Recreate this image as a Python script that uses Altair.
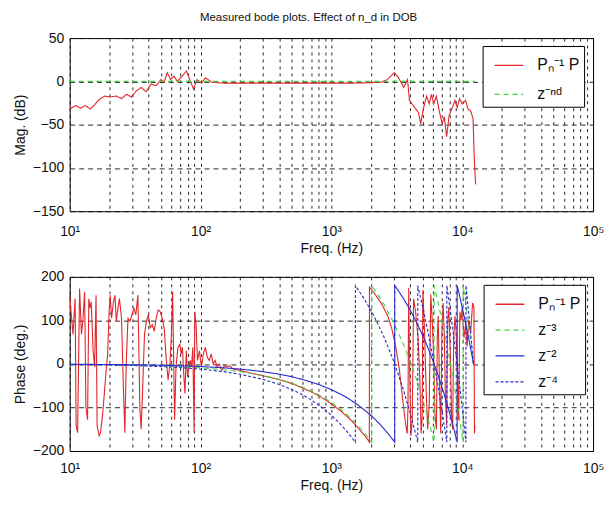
import altair as alt
import pandas as pd

# ---------------- magnitude panel ----------------
mag_p_freq = [10, 11.1, 12.1, 13.2, 14.4, 15.7, 17.1, 18.6, 20.3, 22.8, 24.9, 27.1, 29.6, 32.3,
              35.2, 38.4, 41.9, 45.7, 49.8, 52.7, 55.7, 59, 62.7, 66.4, 72.3, 78, 83.7, 88.5,
              93.9, 102, 108.5, 114.6, 121.5, 150, 200, 300, 500, 1000, 1500, 2000, 2400,
              2670, 3030, 3270, 3570, 3820, 3950, 4230, 4630, 4820, 5040, 5340, 5590, 5820,
              6060, 6340, 6700, 7020, 7300, 7600, 7950, 8420, 8800, 9160, 9550, 9990, 10600,
              11100, 11600, 12100, 12300, 12500, 12650]
mag_p_db = [-32, -28, -31, -28, -32, -26, -20, -17, -18, -17, -20, -15, -18, -11,
            -7, -12, -3, -5, 2, -1, 10, 2, 6, 0, 6, 12, 0, -9,
            2, -2, 4, 2, -1, -2, -2, -2, -2, -2, -2, -1.5, -1,
            2, 10, 4, -7, 2, -22, -28, -36, -49, -32, -17, -26, -15,
            -26, -17, -35, -49, -41, -64, -39, -30, -22, -30, -20, -26, -22,
            -32, -34, -43, -79, -104, -119]
mag_z_freq = [10, 12500]
mag_z_db = [0, 0]
mag_labels = ["Pₙ⁻¹ P", "z⁻ⁿᵈ"]

# ---------------- phase panel ----------------
ph_p_freq = [10, 10.35, 10.6, 11.0, 11.2, 11.5, 11.9, 12.3, 12.6, 13.0, 13.3, 13.7, 14.0, 14.3,
             14.6, 15.1, 15.5, 15.9, 16.2, 16.8, 17.2, 17.8, 18.4, 18.9, 19.5, 20.0, 20.4, 20.9,
             21.6, 22.2, 22.7, 23.2, 24.0, 24.9, 25.8, 26.4, 27.0, 27.9, 28.9, 29.9, 30.9, 32.0,
             33.2, 34.4, 35.2, 36.0, 37.3, 38.6, 39.9, 41.3, 42.8, 44.3, 45.8, 47.4, 49.2, 50.9,
             52.7, 54.6, 56.5, 58.4, 59.9, 61.2, 62.7, 63.4, 64.9, 67.2, 69.5, 71.1, 72.7, 74.4,
             76.0, 77.8, 79.6, 81.4, 83.4, 85.3, 87.3, 89.3, 90.4, 92.5, 94.7, 98.1, 101.6, 105.1,
             108.8, 112.7, 116.6, 120.8, 125.0, 129.4, 134.0, 138.7, 145.3, 152.2, 159.4, 166.8,
             176.5, 200, 250, 300, 400, 500, 600, 700, 800, 900, 1000, 1200, 1400, 1600, 1800,
             1900, 1950, 1955, 2100, 2400, 2700, 2900, 3100, 3300, 3500, 3700, 3800, 3850, 3900,
             3950, 4050, 4150, 4250, 4400, 4600, 4750, 4850, 4950, 5000, 5150, 5300, 5450, 5600,
             5750, 5900, 6050, 6200, 6350, 6450, 6550, 6700, 6850, 7000, 7150, 7300, 7450, 7600,
             7750, 7900, 8100, 8300, 8450, 8600, 8800, 9000, 9200, 9400, 9600, 9800, 10000, 10300,
             10600, 10900, 11200, 11600, 12000, 12300, 12400, 12500]
ph_p_deg = [158, 105, 68, 150, -143, -158, 173, 68, 98, 166, -98, -128, 150, 128,
            143, 30, -7, 158, -143, -165, -158, -120, -68, -23, 23, 120, 158, 105,
            143, 158, 98, 120, 150, 105, -68, -158, -7, 105, 98, 113, 128, 113,
            158, -105, -150, -68, 68, 98, 113, 83, 90, 75, 105, 124, 120, 105,
            83, 15, -37, 0, 68, 166, -45, -128, -7, 38, 45, 23, 38, -23,
            -68, 30, -30, -7, 8, -7, 38, -158, 120, 90, 8, 30, -7, 23,
            38, 15, 8, 23, 0, 8, -7, 0, -15, -4, -7, -4,
            -11, -15, -22, -27, -36, -45, -55, -64, -73, -82, -92, -110, -128, -147, -165,
            -174, -180, 176, 165, 140, 110, 80, 40, -10, -80, -140, -160, -100, 175,
            20, -165, -130, 150, 120, 60, -40, -160, -120, 170, 80, -60, -150, -90,
            160, 100, 20, -120, -150, 60, 110, -40, -160, 80, 140, 60, -80, -140,
            100, 130, 30, -120, -150, 60, 110, 70, -20, -130, 120, 100, 130, 60,
            90, 40, 100, 70, 140, 130, -160, -140]

ph_z3_freq = [10, 30, 60, 100, 150, 200, 300, 400, 500, 600, 700, 800, 900, 1000, 1200, 1400,
              1600, 1800, 2033, 2034, 2300, 2600, 3000, 3500, 4000, 4500, 5000, 5500, 6100,
              6101, 6500, 7000, 7500, 8000, 8500, 9000, 9500, 10167, 10168, 10600, 11000,
              11500, 12200]
ph_z3_deg = [-0.9, -2.7, -5.3, -8.9, -13.3, -17.7, -26.6, -35.4, -44.3, -53.1, -62.0, -70.8,
             -79.7, -88.5, -106.2, -123.9, -141.6, -159.3, -180, 180, 156.4, 129.8, 94.4, 50.1,
             5.9, -38.4, -82.6, -126.9, -180, 180, 144.6, 100.3, 56.1, 11.8, -32.5, -76.7,
             -121.0, -180, 180, 141.7, 106.3, 62.0, 0]

ph_z2_freq = [10, 30, 60, 100, 150, 200, 300, 400, 500, 600, 800, 1000, 1200, 1400, 1600, 1800,
              2000, 2200, 2400, 2600, 2800, 3000, 3050, 3051, 3300, 3600, 4000, 4500, 5000, 5500,
              6000, 6500, 7000, 7500, 8000, 8500, 9000, 9150, 9151, 9600, 10000, 10500, 11000,
              11500, 12200]
ph_z2_deg = [-0.6, -1.8, -3.5, -5.9, -8.9, -11.8, -17.7, -23.6, -29.5, -35.4, -47.2, -59.0,
             -70.8, -82.6, -94.4, -106.2, -118.0, -129.8, -141.6, -153.5, -165.3, -177.0, -180,
             180, 165.2, 147.5, 123.9, 94.4, 64.9, 35.4, 5.9, -23.6, -53.1, -82.6, -112.1,
             -141.6, -171.1, -180, 180, 153.4, 129.8, 100.3, 70.8, 41.3, 0]

ph_z4_freq = [10, 30, 60, 100, 150, 200, 300, 400, 500, 600, 700, 800, 900, 1000, 1100, 1200,
              1300, 1400, 1525, 1526, 1800, 2100, 2500, 3000, 3500, 4000, 4575, 4576, 5000, 5500,
              6000, 6500, 7000, 7625, 7626, 8000, 8500, 9000, 9500, 10000, 10675, 10676, 11200,
              11700, 12200]
ph_z4_deg = [-1.2, -3.5, -7.1, -11.8, -17.7, -23.6, -35.4, -47.2, -59.0, -70.8, -82.6, -94.4,
             -106.2, -118.0, -129.8, -141.6, -153.4, -165.2, -180, 180, 147.5, 112.1, 64.9, 5.9,
             -53.1, -112.1, -180, 180, 129.8, 70.8, 11.8, -47.2, -106.2, -180, 180, 135.7, 76.7,
             17.7, -41.3, -100.3, -180, 180, 118.0, 59.0, 0]
phase_labels = ["Pₙ⁻¹ P", "z⁻³", "z⁻²", "z⁻⁴"]

# ---------------- axes ----------------
x_tick_values = [m * 10 ** e for e in range(1, 5) for m in range(1, 10)] + [100000]
mag_ticks = [-150, -100, -50, 0, 50]
phase_ticks = [-200, -100, 0, 100, 200]

RED, GREEN, BLUE = "#e3262b", "#3fd43f", "#2a2ad0"
FONT = "Liberation Sans"
PLOT_W = 526


def frame(parts):
    rows = []
    for label, fs, vs in parts:
        assert len(fs) == len(vs), label
        for i, (f, v) in enumerate(zip(fs, vs)):
            rows.append({"series": label, "freq": f, "val": v, "idx": i})
    return pd.DataFrame(rows)


mag_df = frame([(mag_labels[0], mag_p_freq, mag_p_db),
                (mag_labels[1], mag_z_freq, mag_z_db)])
ph_df = frame([(phase_labels[0], ph_p_freq, ph_p_deg),
               (phase_labels[1], ph_z3_freq, ph_z3_deg),
               (phase_labels[2], ph_z2_freq, ph_z2_deg),
               (phase_labels[3], ph_z4_freq, ph_z4_deg)])

label_expr = ("datum.value == 10 ? '10¹' : datum.value == 100 ? '10²' : "
              "datum.value == 1000 ? '10³' : datum.value == 10000 ? '10⁴' : "
              "datum.value == 100000 ? '10⁵' : ''")


def x_enc(lab_pad, title_pad):
    return alt.X("freq:Q", title="Freq. (Hz)",
                 scale=alt.Scale(type="log", domain=[10, 100000], nice=False),
                 axis=alt.Axis(values=x_tick_values, labelExpr=label_expr, grid=True,
                               gridDash=[3, 4], gridColor="#111", gridOpacity=0.9,
                               ticks=False, domain=False, labelFlush=False,
                               labelOverlap=False, labelBound=False,
                               labelFontSize=14, labelPadding=lab_pad, labelColor="#111",
                               titleFontSize=14, titleFontWeight="normal",
                               titlePadding=title_pad, titleColor="#111",
                               labelFont=FONT, titleFont=FONT))


def y_enc(title, dom, ticks):
    return alt.Y("val:Q", title=title, scale=alt.Scale(domain=dom, nice=False),
                 axis=alt.Axis(values=ticks, grid=True, gridDash=[5, 4], gridColor="#111",
                               gridOpacity=0.9, ticks=False, domain=False,
                               labelFontSize=14, labelPadding=6, labelColor="#111",
                               titleFontSize=14, titleFontWeight="normal",
                               titlePadding=5, titleColor="#111",
                               labelFont=FONT, titleFont=FONT, labelFlush=False))


def legend(lx, ly, row_pad):
    return alt.Legend(title=None, orient="none", legendX=lx, legendY=ly,
                      fillColor="white", strokeColor="black", padding=4,
                      labelFontSize=16, labelFont=FONT, labelColor="#111",
                      symbolType="stroke", symbolSize=841, symbolStrokeWidth=1.3,
                      symbolOffset=7, labelOffset=13, rowPadding=row_pad)


top = alt.Chart(mag_df).mark_line(strokeWidth=1.1).encode(
    x=x_enc(13, 4),
    y=y_enc("Mag. (dB)", [-150, 50], mag_ticks),
    color=alt.Color("series:N", scale=alt.Scale(domain=mag_labels, range=[RED, GREEN]),
                    legend=legend(PLOT_W - 111, 8, 5)),
    strokeDash=alt.StrokeDash("series:N", scale=alt.Scale(domain=mag_labels,
                                                          range=[[1, 0], [5, 4]]),
                              legend=legend(PLOT_W - 111, 8, 5)),
    order=alt.Order("idx:Q"),
).properties(width=PLOT_W, height=174)

bottom = alt.Chart(ph_df).mark_line(strokeWidth=1.1).encode(
    x=x_enc(11, 3),
    y=y_enc("Phase (deg.)", [-200, 200], phase_ticks),
    color=alt.Color("series:N", scale=alt.Scale(domain=phase_labels,
                                                range=[RED, GREEN, BLUE, BLUE]),
                    legend=legend(PLOT_W - 110, 8, 2)),
    strokeDash=alt.StrokeDash("series:N", scale=alt.Scale(domain=phase_labels,
                                                          range=[[1, 0], [5, 4], [1, 0], [3, 2]]),
                              legend=legend(PLOT_W - 110, 8, 2)),
    order=alt.Order("idx:Q"),
).properties(width=PLOT_W, height=175)

chart = alt.vconcat(top, bottom, spacing=66, bounds="flush").resolve_scale(
    x="independent", y="independent", color="independent", strokeDash="independent"
).properties(
    title=alt.TitleParams("Measured bode plots. Effect of n_d in DOB", fontSize=11.5,
                          font=FONT, fontWeight="normal", color="#111", offset=7,
                          anchor="middle"),
    padding={"left": 4, "top": 3, "right": 0, "bottom": 0},
    background="white",
).configure_view(stroke="black", strokeWidth=1)

chart.save("out.html", embed_options={"renderer": "svg", "actions": False})
